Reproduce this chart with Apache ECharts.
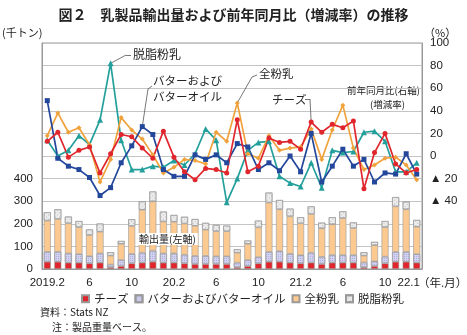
<!DOCTYPE html>
<html><head><meta charset="utf-8">
<script src="https://cdn.jsdelivr.net/npm/echarts@6/dist/echarts.min.js"></script>
<style>html,body{margin:0;padding:0;background:#fff}#c{width:467px;height:335px}</style>
</head><body><div id="c"></div>
<script>
// ---- data ----
const categories = ['2019.2','2019.3','2019.4','2019.5','2019.6','2019.7','2019.8','2019.9','2019.10','2019.11','2019.12',
  '2020.1','2020.2','2020.3','2020.4','2020.5','2020.6','2020.7','2020.8','2020.9','2020.10','2020.11','2020.12',
  '2021.1','2021.2','2021.3','2021.4','2021.5','2021.6','2021.7','2021.8','2021.9','2021.10','2021.11','2021.12','2022.1'];
const tickLabels = ['2019.2','','','','6','','','','10','','','','20.2','','','','6','','','','10','','','','21.2','','','','6','','','','10','','','22.1'];
const leftTicks = [0,100,200,300,400];
const rightTicks = [-40,-20,0,20,40,60,80,100];

// export volume (thousand tonnes), stacked
const cheese = [32,32,28,28,25,28,8,13,25,28,32,28,28,25,22,22,22,22,8,13,25,32,32,28,25,28,22,28,28,28,8,13,25,32,32,28];
const butter = [44,44,41,38,32,41,12,27,42,44,49,41,41,38,36,36,34,34,20,27,28,44,47,39,36,44,32,34,34,34,21,21,30,44,44,38];
const wmp    = [138,145,133,119,93,96,39,71,123,190,218,141,140,138,133,116,111,111,44,71,131,218,185,166,141,171,126,136,163,119,30,71,130,201,188,121];
const smp    = [37,43,30,27,25,36,15,13,30,37,44,44,30,30,30,30,28,25,15,15,30,44,41,34,27,34,25,31,30,25,15,15,27,41,34,30];

// year-on-year change (%)
const cheeseYoY = [13,21,-1,5,8,-15,2,19,17,7,-2,22,-1,-14,-21,-11,-12,-15,32,-14,-9,16,12,13,6,30,21,28,25,31,-29,3,20,-7,-15,-12];
const butterYoY = [49,-2,-9,-12,-19,-35,-28,-6,9,26,19,-12,-18,-18,1,-3,1,-6,11,8,-12,-6,-13,0,-14,20,-23,-9,6,-9,-3,-23,-15,-16,2,-16];
const wmpYoY    = [18,38,21,25,10,-23,-3,34,23,15,1,-15,-10,-3,-4,-7,21,13,47,2,-2,18,5,7,8,24,-3,23,45,7,-12,-8,-2,-1,-8,-21];
const smpYoY    = [14,0,5,18,10,32,82,14,-12,-12,-9,-10,-4,-8,2,24,14,-41,-20,5,12,13,-18,-24,-27,-6,-28,5,3,4,21,22,13,-14,-14,-6];

const seriesNames = ['チーズ','バターおよびバターオイル','全粉乳','脱脂粉乳'];

// ---- chart ----
const FONT = '"Liberation Sans","Noto Sans CJK JP",sans-serif';
const JP = '"Noto Sans CJK JP","Liberation Sans",sans-serif';
const C_RED='#e0262c', C_BLUE='#23479b', C_ORANGE='#f0a23c', C_TEAL='#23a09c';
const chart = echarts.init(document.getElementById('c'), null, {renderer:'canvas'});

function bar(name, data, color, decal){
  const itemStyle = {color, borderColor:'#9a9a9a', borderWidth:0.6};
  if (decal) itemStyle.decal = decal;
  return {name, type:'bar', stack:'vol', yAxisIndex:0, data, barWidth:7, itemStyle, z:2};
}
function line(name, data, color, symbol, extra){
  return Object.assign({name, type:'line', yAxisIndex:1, data, symbol, symbolSize: symbol==='triangle'?6:5,
    itemStyle:{color}, lineStyle:{color, width:1.7}, z:5, silent:true}, extra||{});
}
const leaderStyle = {color:'#555', width:0.8, type:'solid'};
function lead(segs){
  return {silent:true, symbol:'none', label:{show:false}, lineStyle:leaderStyle, data:segs};
}

chart.setOption({
  animation:false,
  textStyle:{fontFamily:FONT},
  title:{text:'図２　乳製品輸出量および前年同月比（増減率）の推移', left:'center', top:3,
    textStyle:{fontFamily:JP, fontSize:14, fontWeight:'bold', color:'#222'}},
  grid:{left:42, right:45, top:43, bottom:66, show:true, borderColor:'#999', borderWidth:1},
  legend:{data:seriesNames, left:76, top:288, itemWidth:7, itemHeight:7, itemGap:6, icon:'rect',
    textStyle:{fontFamily:JP, fontSize:11.5, color:'#222'}},
  xAxis:{type:'category', data:categories, boundaryGap:true,
    axisLine:{lineStyle:{color:'#999'}}, axisTick:{show:false},
    axisLabel:{interval:0, margin:8, fontSize:11.5, color:'#222',
      formatter:(v,i)=> i===35 ? '{s|'+tickLabels[i]+'}' : tickLabels[i],
      rich:{s:{fontSize:11.5, color:'#222', padding:[0,16,0,0]}}}},
  yAxis:[
    {type:'value', min:0, max:1000, interval:100, position:'left',
     axisLine:{show:true, lineStyle:{color:'#999'}}, axisTick:{show:false},
     splitLine:{lineStyle:{color:'#c4c4c4'}},
     axisLabel:{margin:9, fontSize:11.5, color:'#222', formatter:v=> leftTicks.includes(v) ? String(v) : ''}},
    {type:'value', min:-100, max:100, interval:20, position:'right',
     axisLine:{show:true, lineStyle:{color:'#999'}}, axisTick:{show:false}, splitLine:{show:false},
     axisLabel:{margin:8, fontSize:11.5, color:'#222',
       formatter:v=> !rightTicks.includes(v) ? '' : (v<0 ? '▲ '+(-v) : String(v))}}
  ],
  series:[
    bar(seriesNames[0], cheese, C_RED),
    bar(seriesNames[1], butter, '#d2d2f0', {symbol:'rect', symbolSize:1, dashArrayX:[[1,1]], dashArrayY:[1,1], color:'rgba(150,150,210,0.55)'}),
    bar(seriesNames[2], wmp, '#fcc990'),
    bar(seriesNames[3], smp, '#ececec', {symbol:'rect', symbolSize:1, dashArrayX:[[1,2]], dashArrayY:[1,2], rotation:Math.PI/4, color:'rgba(140,140,140,0.5)'}),
    line('脱脂粉乳（前年同月比）', smpYoY, C_TEAL, 'triangle', {
      markLine: lead([
        [{coord:[categories[6], smpYoY[6]]}, {x:126, y:55}],
        [{x:126, y:55}, {x:131, y:55}]
      ])}),
    line('全粉乳（前年同月比）', wmpYoY, C_ORANGE, 'diamond', {
      markLine: lead([
        [{coord:[categories[18], wmpYoY[18]]}, {x:252, y:77}],
        [{x:252, y:77}, {x:257, y:75}]
      ])}),
    line('バター（前年同月比）', butterYoY, C_BLUE, 'rect', {
      markLine: lead([
        [{coord:[categories[9], butterYoY[9]]}, {x:148, y:89}],
        [{x:148, y:89}, {x:152, y:86}]
      ])}),
    line('チーズ（前年同月比）', cheeseYoY, C_RED, 'circle', {
      markLine: {silent:true, symbol:'none', label:{show:false},
        data:[
          [{yAxis:0, lineStyle:{color:'#111', width:1.3, type:[4,3]}}, {yAxis:0}],
          [{coord:[categories[25], cheeseYoY[25]], lineStyle:leaderStyle}, {x:310, y:99}],
          [{x:310, y:99, lineStyle:leaderStyle}, {x:305, y:99}]
        ]}})
  ],
  graphic:[
    {type:'text', left:2, top:27, style:{text:'(千トン)', font:'11px '+JP, fill:'#222'}},
    {type:'text', left:424, top:27, style:{text:'（%）', font:'11px '+JP, fill:'#222'}},
    {type:'text', left:418, top:277, style:{text:'（年.月）', font:'11.5px '+JP, fill:'#222'}},
    {type:'text', left:133, top:48, style:{text:'脱脂粉乳', font:'12px '+JP, fill:'#222'}},
    {type:'text', left:153, top:75, style:{text:'バターおよび', font:'11.5px '+JP, fill:'#222'}},
    {type:'text', left:153, top:91, style:{text:'バターオイル', font:'11.5px '+JP, fill:'#222'}},
    {type:'text', left:259, top:68, style:{text:'全粉乳', font:'11.5px '+JP, fill:'#222'}},
    {type:'text', left:272, top:94, style:{text:'チーズ', font:'11.5px '+JP, fill:'#222'}},
    {type:'text', left:347, top:86, style:{text:'前年同月比(右軸)', font:'9.5px '+JP, fill:'#222'}},
    {type:'text', left:370, top:100, style:{text:'(増減率)', font:'9.5px '+JP, fill:'#222'}},
    {type:'text', left:137, top:233, z:20, style:{text:'輸出量(左軸)', font:'10px '+JP, fill:'#222',
      backgroundColor:'#fff', padding:[1,2,1,2]}},
    {type:'text', left:40, top:307, style:{text:'資料：Stats NZ', font:'10px '+JP, fill:'#222'}},
    {type:'text', left:52, top:322, style:{text:'注：製品重量ベース。', font:'10px '+JP, fill:'#222'}}
  ]
});
</script></body></html>
